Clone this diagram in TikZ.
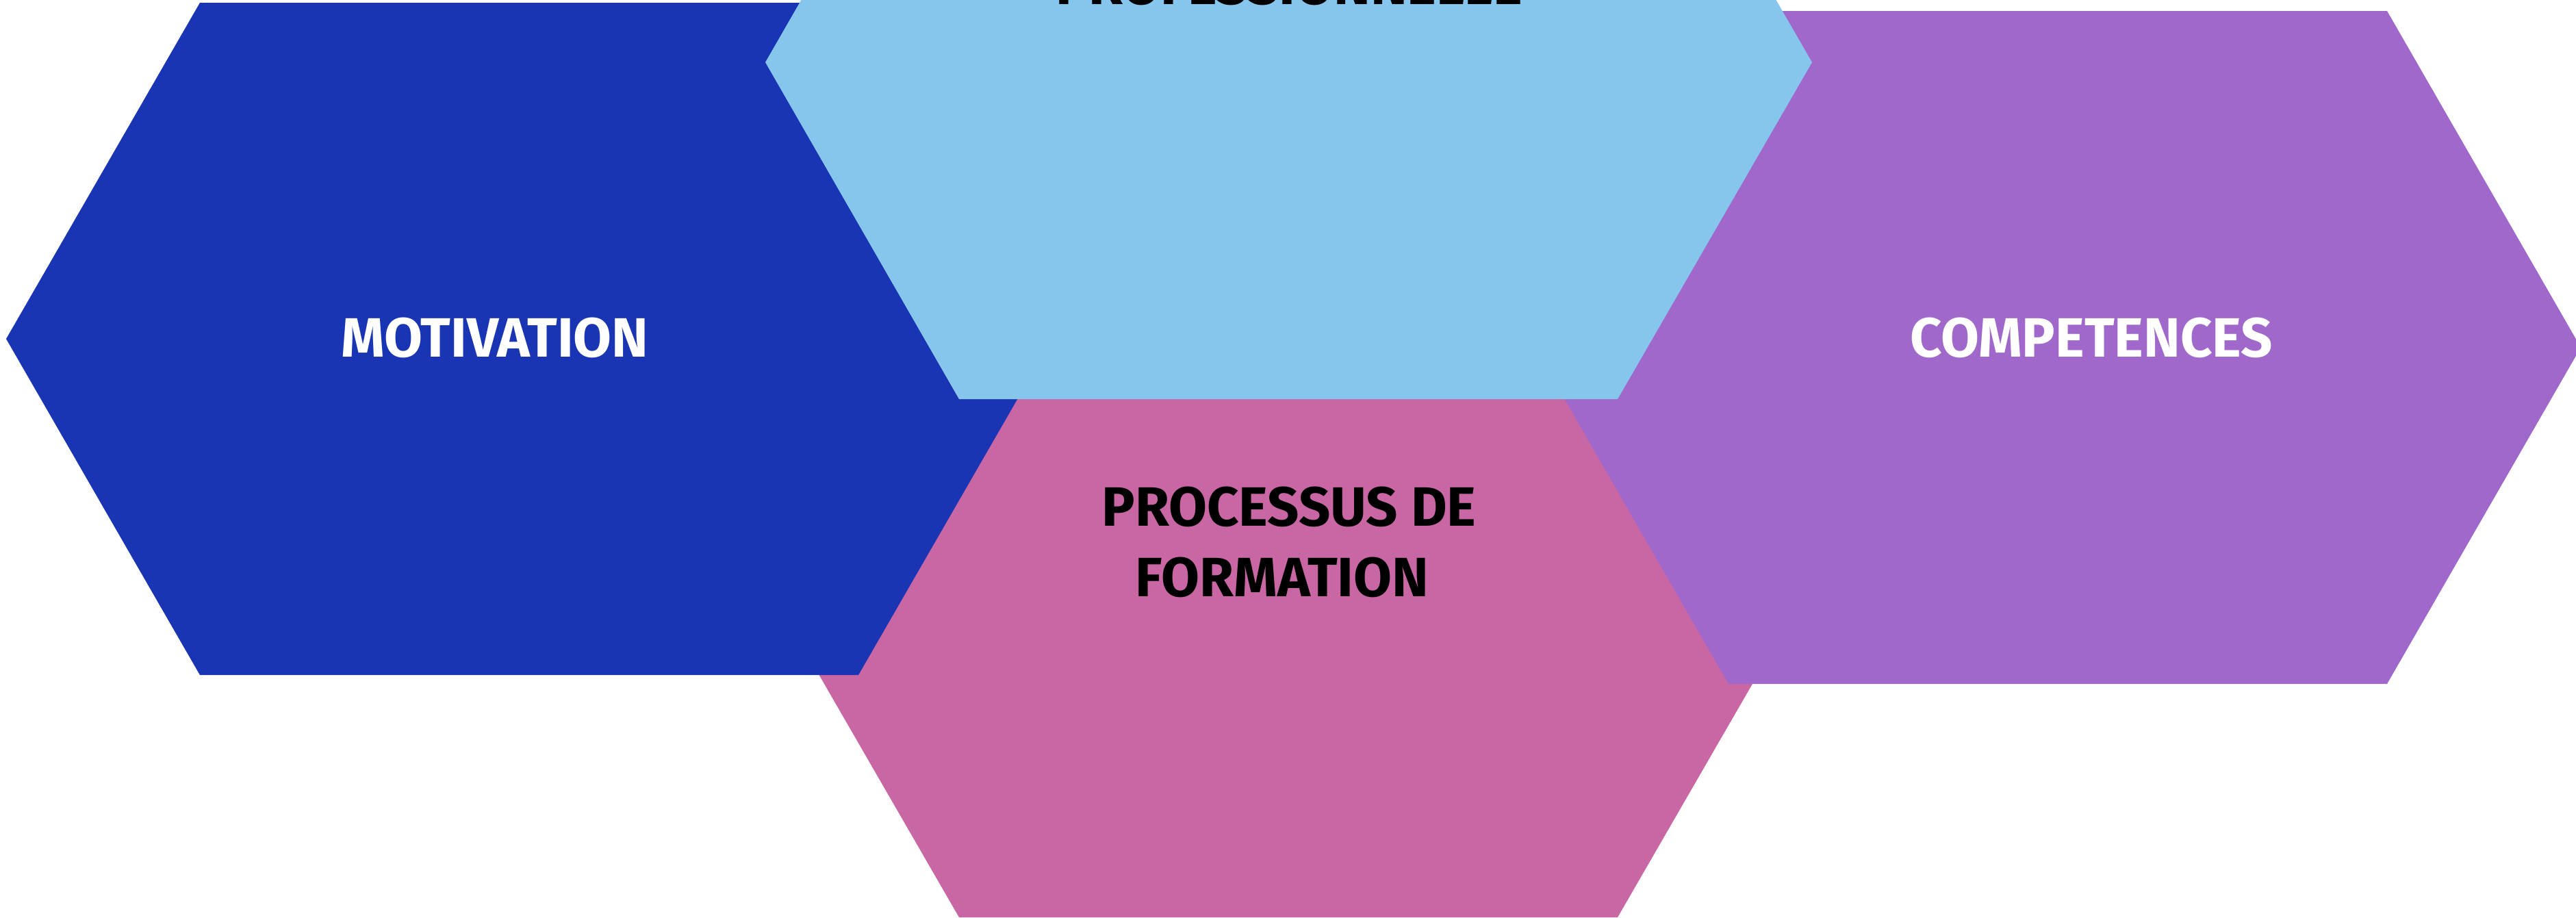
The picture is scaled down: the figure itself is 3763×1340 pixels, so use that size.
\documentclass[tikz,border=0pt]{standalone}
\usepackage{fontspec}
\setmainfont{Fira Sans}
\definecolor{cblue}{HTML}{1935B3}
\definecolor{clight}{HTML}{87C6EC}
\definecolor{cpink}{HTML}{C967A5}
\definecolor{cpurple}{HTML}{A068CB}
\tikzset{
  hexa/.style={fill=#1, draw=none},
  lbl/.style={font=\fontsize{8.1}{10.3}\selectfont\bfseries, align=center, inner sep=0pt},
}
\begin{document}
\begin{tikzpicture}[x=0.1pt,y=-0.1pt]
\useasboundingbox (0,0) rectangle (3763,1340);
\clip (0,0) rectangle (3763,1340);
% pink (bottom)
\fill[hexa=cpink] (1118,850) -- (1401,360) -- (2363,360) -- (2646,850) -- (2363,1340) -- (1401,1340) -- cycle;
% blue
\fill[hexa=cblue] (9,495) -- (292,4) -- (1254,4) -- (1537,495) -- (1254,986) -- (292,986) -- cycle;
% purple
\fill[hexa=cpurple] (2242,507.5) -- (2525,16) -- (3487,16) -- (3770,507.5) -- (3487,999) -- (2525,999) -- cycle;
% light blue (top)
\fill[hexa=clight] (1118,91) -- (1401,-401) -- (2363,-401) -- (2647,91) -- (2363,583) -- (1401,583) -- cycle;
% labels
\node[lbl, text=white, anchor=base] (mot) at (723,521) {MOTIVATION};
\node[lbl, text=white, anchor=base] (comp) at (3055,521) {COMPETENCES};
\node[lbl, text=black, anchor=base] (proc1) at (1883,768) {PROCESSUS DE};
\node[lbl, text=black, anchor=base] (proc2) at (1873,871) {FORMATION};
\node[lbl, text=black, anchor=base] (prof) at (1883,6) {PROFESSIONNELLE};
\end{tikzpicture}
\end{document}
